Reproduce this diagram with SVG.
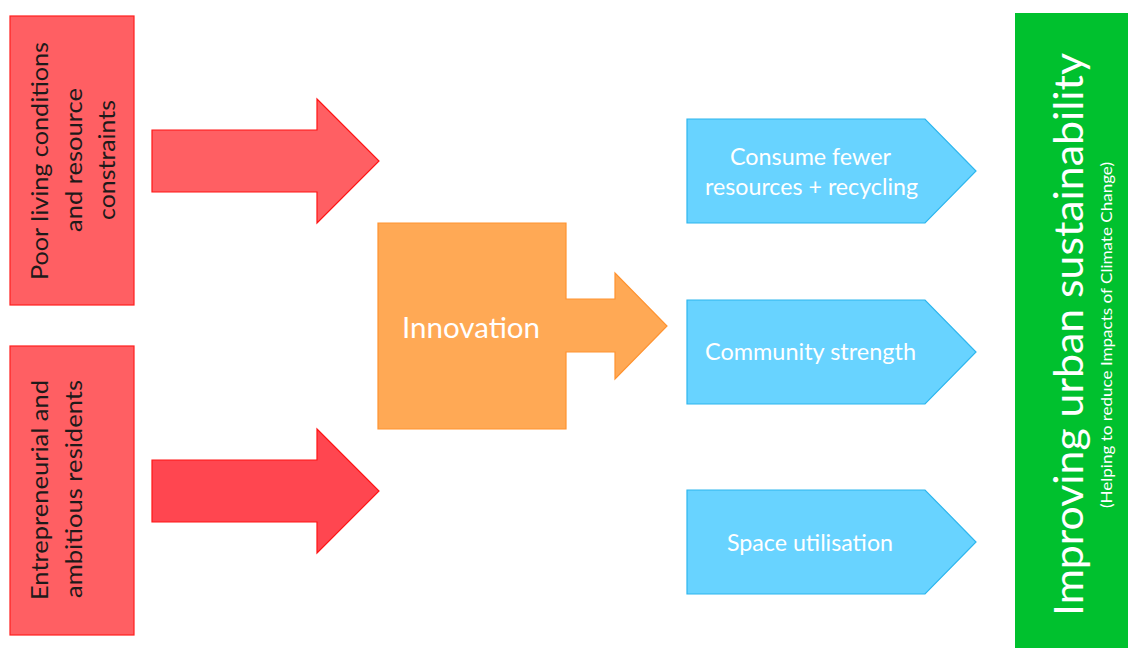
<svg xmlns="http://www.w3.org/2000/svg" width="1128" height="648" viewBox="0 0 1128 648">
  <style>
    .lbl { font-family: Lato, "Open Sans", sans-serif; }
    .red { fill: #FF5F63; stroke: #FF1E1E; stroke-width: 1.2; }
    .redArrowA { fill: #FF5F63; stroke: #FF1414; stroke-width: 1.2; }
    .redArrowB { fill: #FF4650; stroke: #FF1414; stroke-width: 1.2; }
    .orange { fill: #FFA955; stroke: #FF9330; stroke-width: 1.2; }
    .blue { fill: #68D3FF; stroke: #2DB6EE; stroke-width: 1.2; }
    .green { fill: #00C12E; }
    .dark { fill: #1E1A1A; font-size: 24px; }
    .white { fill: #FFFFFF; }
  </style>
  <rect width="1128" height="648" fill="#FFFFFF"/>

  <!-- driver: living conditions -->
  <g id="node-conditions">
    <rect class="red" x="10" y="16" width="124" height="289"/>
    <text class="lbl dark" text-anchor="middle" transform="translate(48,161) rotate(-90)" textLength="238" lengthAdjust="spacingAndGlyphs">Poor living conditions</text>
    <text class="lbl dark" text-anchor="middle" transform="translate(81.5,160) rotate(-90)" textLength="144" lengthAdjust="spacingAndGlyphs">and resource</text>
    <text class="lbl dark" text-anchor="middle" transform="translate(115,160) rotate(-90)" textLength="120" lengthAdjust="spacingAndGlyphs">constraints</text>
  </g>

  <!-- driver: residents -->
  <g id="node-residents">
    <rect class="red" x="10" y="346" width="124" height="289"/>
    <text class="lbl dark" text-anchor="middle" transform="translate(48,490) rotate(-90)" textLength="220" lengthAdjust="spacingAndGlyphs">Entrepreneurial and</text>
    <text class="lbl dark" text-anchor="middle" transform="translate(82,489) rotate(-90)" textLength="218" lengthAdjust="spacingAndGlyphs">ambitious residents</text>
  </g>

  <!-- block arrows into innovation -->
  <g id="connectors">
    <polygon class="redArrowA" points="152,130 317,130 317,99 379,161 317,223 317,192 152,192"/>
    <polygon class="redArrowB" points="152,460 317,460 317,429 379,491 317,553 317,522 152,522"/>
  </g>

  <!-- innovation box with its outgoing arrow -->
  <g id="node-innovation">
    <polygon class="orange" points="378,223 566,223 566,299 615,299 615,273 667,326 615,379 615,352 566,352 566,429 378,429"/>
    <text class="lbl white" x="471" y="338" font-size="28.5" text-anchor="middle" textLength="138" lengthAdjust="spacingAndGlyphs">Innovation</text>
  </g>

  <!-- outcomes -->
  <g id="node-consume">
    <polygon class="blue" points="687,119 925,119 976,171 925,223 687,223"/>
    <text class="lbl white" x="810.5" y="165" font-size="22.5" text-anchor="middle" textLength="161" lengthAdjust="spacingAndGlyphs">Consume fewer</text>
    <text class="lbl white" x="811.5" y="195" font-size="22.5" text-anchor="middle" textLength="213" lengthAdjust="spacingAndGlyphs">resources + recycling</text>
  </g>
  <g id="node-community">
    <polygon class="blue" points="687,300 925,300 976,352 925,404 687,404"/>
    <text class="lbl white" x="810.5" y="360" font-size="22.5" text-anchor="middle" textLength="211" lengthAdjust="spacingAndGlyphs">Community strength</text>
  </g>
  <g id="node-space">
    <polygon class="blue" points="687,490 925,490 976,542 925,594 687,594"/>
    <text class="lbl white" x="810" y="551" font-size="22.5" text-anchor="middle" textLength="166" lengthAdjust="spacingAndGlyphs">Space utilisation</text>
  </g>

  <!-- overall goal -->
  <g id="node-sustainability">
    <rect class="green" x="1015" y="13" width="120" height="650"/>
    <text class="lbl white" font-size="41" text-anchor="middle" transform="translate(1083,334.5) rotate(-90)" textLength="563" lengthAdjust="spacingAndGlyphs">Improving urban sustainability</text>
    <text class="lbl white" font-size="15" text-anchor="middle" transform="translate(1112,335) rotate(-90)" textLength="346" lengthAdjust="spacingAndGlyphs">(Helping to reduce Impacts of Climate Change)</text>
  </g>
</svg>
